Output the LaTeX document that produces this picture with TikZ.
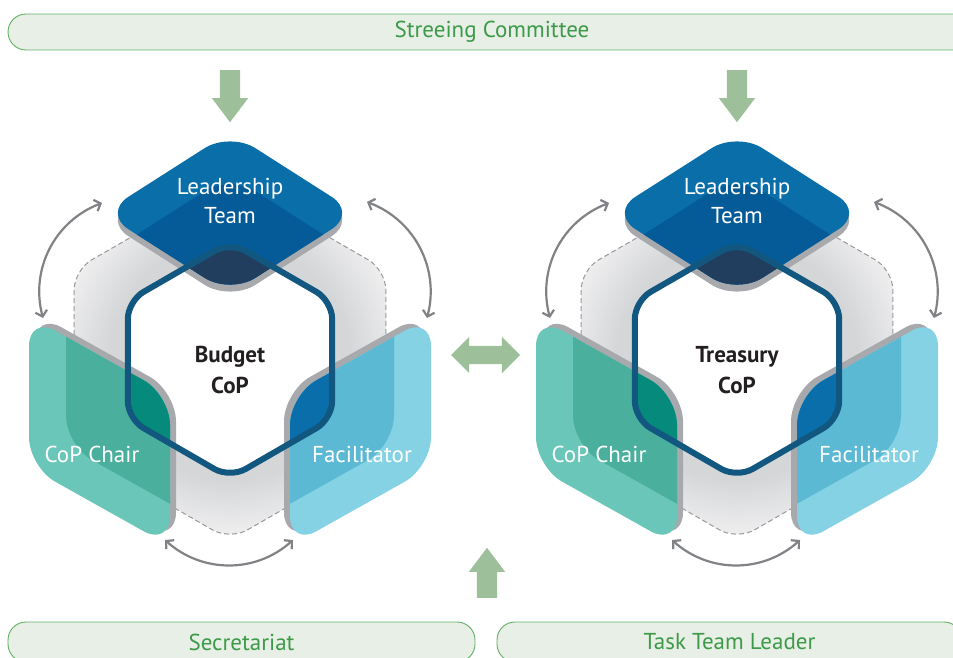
\documentclass[tikz,border=0pt]{standalone}
\usepackage{fontspec}
\setmainfont{PT Sans}
\usetikzlibrary{arrows.meta,shapes.arrows}

\definecolor{barfill}{HTML}{E7EFE6}
\definecolor{barline}{HTML}{62AE63}
\definecolor{bartext}{HTML}{3C9A48}
\definecolor{flow}{HTML}{9DC09A}
\definecolor{swapgray}{HTML}{808285}
\definecolor{bgdark}{HTML}{D5D6D8}
\definecolor{bglight}{HTML}{EFEFF0}
\definecolor{bgline}{HTML}{97999C}
\definecolor{rimgray}{HTML}{A7A9AC}
\definecolor{hexline}{HTML}{12577F}
\definecolor{coretext}{HTML}{231F20}
\definecolor{ltlite}{HTML}{0A6FA9}
\definecolor{ltdark}{HTML}{055B97}
\definecolor{ltin}{HTML}{213E5F}
\definecolor{cclite}{HTML}{6AC6B8}
\definecolor{ccdark}{HTML}{4AAF9C}
\definecolor{ccin}{HTML}{068A7B}
\definecolor{falite}{HTML}{84D2E3}
\definecolor{fadark}{HTML}{5CB9D4}
\definecolor{fain}{HTML}{0A6EAA}

\pgfdeclareradialshading{hexglow}{\pgfpoint{0bp}{0bp}}{color(0bp)=(bgdark); color(15bp)=(bgdark); color(22bp)=(bglight); color(50bp)=(bglight)}

\def\leadtile{(0,66) -- (127,147) -- (0,228) -- (-127,147) -- cycle}
\def\chairtile{(-60,-35) -- (-201,44) -- (-201,-107) -- (-60,-186) -- cycle}
\def\factile{(60,-35) -- (201,44) -- (201,-107) -- (60,-186) -- cycle}
\def\corehex{(90:118) -- (150:118) -- (210:118) -- (270:118) -- (330:118) -- (30:118) -- cycle}
\def\outerhex{(90:180) -- (150:180) -- (210:180) -- (270:180) -- (330:180) -- (30:180) -- cycle}

% one CoP: #1 name, #2 centre x, #3 centre label
\newcommand\copunit[3]{%
  \begin{scope}[shift={(#2,297)}]
    % shaded backdrop
    \begin{scope}[rounded corners=20]
      \clip \outerhex;
      \shade[shading=hexglow] (0,0) circle (200);
    \end{scope}
    \draw[backdrop] \outerhex;
    \fill[white, rounded corners=18] \corehex;
    % the three role tiles
    \foreach \tile/\rx/\ry/\dx/\dy/\lite/\dark/\inn in
      {\leadtile/0/-7/0/-43/ltlite/ltdark/ltin,
       \chairtile/6/3.5/37/21.5/cclite/ccdark/ccin,
       \factile/-6/3.5/-37/21.5/falite/fadark/fain}{
      \begin{scope}[rounded corners=30]
        \fill[fill=rimgray, shift={(\rx,\ry)}] \tile;
        \fill[fill=\lite] \tile;
        \begin{scope}
          \clip \tile;
          \fill[fill=\dark, shift={(\dx,\dy)}] \tile;
        \end{scope}
        \begin{scope}
          \clip[rounded corners=18] \corehex;
          \fill[fill=\inn] \tile;
        \end{scope}
      \end{scope}
    }
    \draw[corering] \corehex;
    \node[tile] (#1lead) at (0,159) {Leadership\\Team};
    \node[tile] (#1chair) at (-138,-94) {CoP Chair};
    \node[tile] (#1fac) at (132,-94) {Facilitator};
    \node[core] (#1core) at (0,-10) {#3};
    \coordinate (#1la) at (-128,157);
    \coordinate (#1lb) at (-187,42);
    \coordinate (#1ra) at (137,158);
    \coordinate (#1rb) at (197,42);
    \coordinate (#1ba) at (-65,-180);
    \coordinate (#1bb) at (63,-180);
    \draw[relation] (#1la) to[bend right=42] (#1lb);
    \draw[relation] (#1ra) to[bend left=42] (#1rb);
    \draw[relation] (#1ba) to[bend right=42] (#1bb);
  \end{scope}}

\begin{document}
\begin{tikzpicture}[x=1pt, y=1pt,
    board/.style={draw=barline, fill=barfill, line width=0.9pt, rounded corners=18pt,
      text=bartext, font=\fontsize{23}{26}\selectfont, inner sep=0pt},
    flowarrow/.style={fill=flow, draw=none, inner sep=10pt},
    tile/.style={text=white, align=center, font=\fontsize{23}{29}\selectfont},
    core/.style={text=coretext, align=center, font=\bfseries\fontsize{23}{31}\selectfont},
    backdrop/.style={draw=bgline, line width=1pt, dash pattern=on 5pt off 3pt, rounded corners=20},
    corering/.style={draw=hexline, line width=6pt, rounded corners=18},
    relation/.style={draw=swapgray, line width=2.2pt,
      {Straight Barb[length=5.5pt,width=12pt]}-{Straight Barb[length=5.5pt,width=12pt]}}]
  \useasboundingbox (0,0) rectangle (953,657);

  \node[board, minimum width=968, minimum height=36] (steer) at (492,625) {Streeing Committee};
  \node[board, minimum width=467, minimum height=40] (secr) at (241.5,15) {Secretariat};
  \node[board, minimum width=465, minimum height=40] (ttl) at (729.5,15) {Task Team Leader};

  \node[flowarrow, single arrow, single arrow head extend=8pt, single arrow tip angle=74,
    minimum height=52pt, shape border rotate=270, anchor=tail] (down1) at (230,587) {};
  \node[flowarrow, single arrow, single arrow head extend=8pt, single arrow tip angle=74,
    minimum height=52pt, shape border rotate=270, anchor=tail] (down2) at (737,587) {};
  \node[flowarrow, single arrow, single arrow head extend=8pt, single arrow tip angle=74,
    minimum height=50pt, shape border rotate=90, anchor=tail] (up) at (487,59) {};
  \node[flowarrow, double arrow, double arrow head extend=9pt, double arrow tip angle=90,
    inner sep=9pt, minimum height=69pt] (link) at (485.5,302) {};

  \copunit{b}{230}{Budget\\CoP}
  \copunit{t}{737}{Treasury\\CoP}
\end{tikzpicture}
\end{document}
